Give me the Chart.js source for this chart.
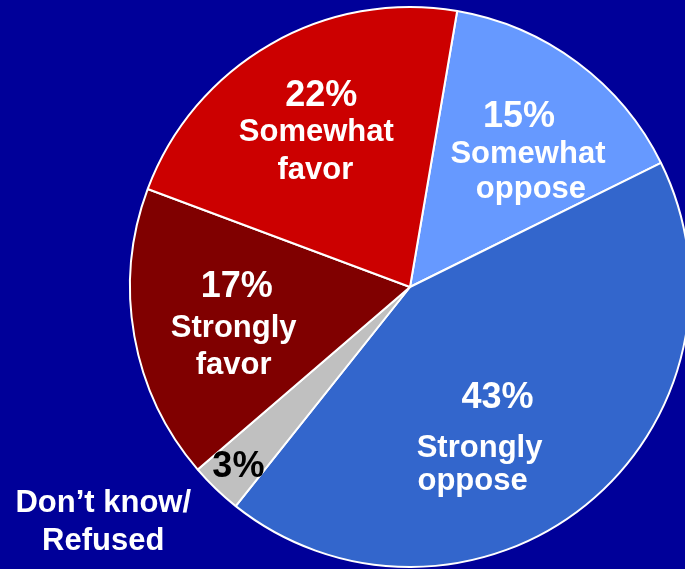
<!DOCTYPE html>
<html lang="en">
<head>
  <meta charset="UTF-8">
  <title>Favor / Oppose</title>
  <script src="https://cdn.jsdelivr.net/npm/chart.js"></script>
  <style>
    html, body { margin: 0; padding: 0; width: 685px; height: 569px; overflow: hidden; background: #000099; }
    #pie { position: absolute; left: 0; top: -13px; }
  </style>
</head>
<body>
  <canvas id="pie" width="820" height="600"></canvas>

  <script>
    // data, clockwise from the slice just right of 12 o'clock
    const categories = ['Somewhat oppose', 'Strongly oppose', 'Don\u2019t know/Refused', 'Strongly favor', 'Somewhat favor'];
    const shares = [15, 43, 3, 17, 22];
    const insideLines = [['Somewhat', 'oppose'], ['Strongly', 'oppose'], [], ['Strongly', 'favor'], ['Somewhat', 'favor']];
    const outsideLines = [[], [], ['Don\u2019t know/', 'Refused'], [], []];

    const sliceColors = ['#6699FF', '#3366CC', '#C0C0C0', '#800000', '#CC0000'];
    const textColors = ['#FFFFFF', '#FFFFFF', '#000000', '#FFFFFF', '#FFFFFF'];

    // where each label sits: fraction of radius, turn off the slice middle (deg),
    // baseline offsets per line and per-line x nudges
    const layout = [
      { frac: 0.646, turn: 4, base: [-23, 13, 48], dx: [-9, 0, 3] },
      { frac: 0.59, turn: 14, base: [-29, 20, 53], dx: [18, 0, -7] },
      { frac: 0.884, turn: 0, base: [12], dx: [0] },
      { frac: 0.643, turn: -1.6, base: [-27, 13, 50], dx: [3, 0, 0] },
      { frac: 0.657, turn: -0.7, base: [-23, 12, 50], dx: [5, 0, -1] }
    ];
    const outside = { frac: 1.4, turn: 7.6, base: [-19, 19] };

    const FONT = '"Liberation Sans", Arial, sans-serif';

    const sliceLabels = {
      id: 'sliceLabels',
      afterDatasetsDraw(chart) {
        const ctx = chart.ctx;
        const meta = chart.getDatasetMeta(0);
        ctx.save();
        ctx.textAlign = 'center';
        ctx.textBaseline = 'alphabetic';
        meta.data.forEach((arc, i) => {
          const p = arc.getProps(['x', 'y', 'startAngle', 'endAngle', 'outerRadius'], true);
          const mid = (p.startAngle + p.endAngle) / 2;
          const L = layout[i];
          const a = mid + L.turn * Math.PI / 180;
          const cx = p.x + Math.cos(a) * p.outerRadius * L.frac;
          const cy = p.y + Math.sin(a) * p.outerRadius * L.frac;
          const lines = [shares[i] + '%'].concat(insideLines[i]);
          ctx.fillStyle = textColors[i];
          lines.forEach((t, k) => {
            ctx.font = 'bold ' + (k === 0 ? 36 : 31) + 'px ' + FONT;
            ctx.fillText(t, cx + (L.dx[k] || 0), cy + L.base[k]);
          });
          if (outsideLines[i].length) {
            const b = mid + outside.turn * Math.PI / 180;
            const ox = p.x + Math.cos(b) * p.outerRadius * outside.frac;
            const oy = p.y + Math.sin(b) * p.outerRadius * outside.frac;
            ctx.fillStyle = '#FFFFFF';
            ctx.font = 'bold 31px ' + FONT;
            outsideLines[i].forEach((t, k) => ctx.fillText(t, ox, oy + outside.base[k]));
          }
        });
        ctx.restore();
      }
    };

    new Chart(document.getElementById('pie'), {
      type: 'pie',
      data: {
        labels: categories,
        datasets: [{
          data: shares,
          backgroundColor: sliceColors,
          borderColor: '#FFFFFF',
          borderWidth: 2
        }]
      },
      options: {
        responsive: false,
        animation: false,
        rotation: 9.7,
        radius: 280,
        layout: { padding: 0 },
        plugins: {
          legend: { display: false },
          tooltip: { enabled: false }
        }
      },
      plugins: [sliceLabels]
    });
  </script>
</body>
</html>
